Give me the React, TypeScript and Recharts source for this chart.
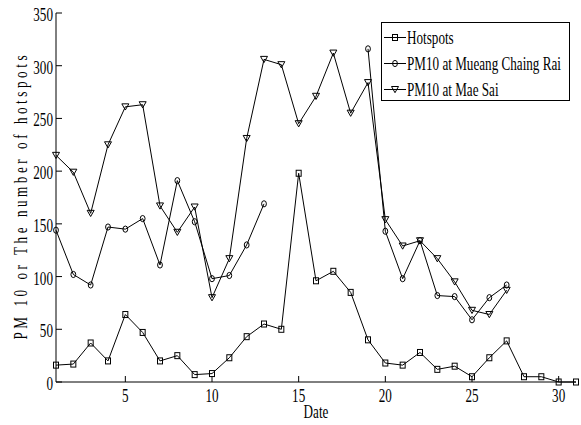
import React from 'react';
import { LineChart, Line, XAxis, YAxis, Legend } from 'recharts';

const dates = [1,2,3,4,5,6,7,8,9,10,11,12,13,14,15,16,17,18,19,20,21,22,23,24,25,26,27,28,29,30,31];
const hotspots = [16,17,37,20,64,47,20,25,7,8,23,43,55,50,198,96,105,85,40,18,16,28,12,15,5,23,39,5,5,0,0];
const pm10Mueang = [144,102,92,147,145,155,111,191,152,98,101,130,169,null,null,null,null,null,316,143,98,134,82,81,59,80,92,null,null,null,null];
const pm10MaeSai = [215,199,160,225,261,263,167,142,166,80,117,231,306,301,245,271,312,255,284,154,129,134,117,95,68,64,87,null,null,null,null];
const xTicks = [5,10,15,20,25,30];
const yTicks = [0,50,100,150,200,250,300,350];
const seriesNames = ['Hotspots', 'PM10 at Mueang Chaing Rai', 'PM10 at Mae Sai'];

const data = dates.map((d, i) => ({
  date: d,
  hotspots: hotspots[i],
  mueang: pm10Mueang[i],
  maeSai: pm10MaeSai[i],
}));

const FONT = '"Liberation Serif", "Times New Roman", serif';
const SX = 0.73;

const Square = ({ cx, cy }: any) => (
  <rect x={cx - 2.5} y={cy - 3} width={5} height={6} fill="none" stroke="#000" strokeWidth={1} />
);
const Circ = ({ cx, cy }: any) => (
  <ellipse cx={cx} cy={cy} rx={2.4} ry={3.1} fill="none" stroke="#000" strokeWidth={1} />
);
const Tri = ({ cx, cy }: any) => (
  <polygon points={`${cx - 3.5},${cy - 3} ${cx + 3.5},${cy - 3} ${cx},${cy + 3.2}`} fill="none" stroke="#000" strokeWidth={1} />
);

const mkDot = (Shape: any) => (props: any) => {
  const { cx, cy, value, index } = props;
  if (value == null || cx == null || cy == null) return <g key={`n${index}`} />;
  return <Shape key={`d${index}`} cx={cx} cy={cy} />;
};

const LeftTick = ({ x, y, payload }: any) => (
  <g>
    <line x1={x} y1={y} x2={x + 6} y2={y} stroke="#000" />
    <text transform={`translate(${x - 3},${y + 8}) scale(${SX},1)`} textAnchor="end" fontFamily={FONT} fontSize={18} fill="#000">
      {payload.value}
    </text>
  </g>
);
const RightTick = ({ x, y }: any) => (
  <line x1={x} y1={y} x2={x - 6} y2={y} stroke="#000" />
);
const BottomTick = ({ x, y, payload }: any) => (
  <g>
    <line x1={x} y1={y} x2={x} y2={y - 6} stroke="#000" />
    <text transform={`translate(${x},${y + 20}) scale(${SX},1)`} textAnchor="middle" fontFamily={FONT} fontSize={18} fill="#000">
      {payload.value}
    </text>
  </g>
);
const TopTick = ({ x, y }: any) => (
  <line x1={x} y1={y} x2={x} y2={y + 6} stroke="#000" />
);

const LegendBox = () => {
  const shapes = [Square, Circ, Tri];
  return (
    <svg width={190} height={80} style={{ display: 'block' }}>
      <rect x={0.5} y={0.5} width={188} height={78} fill="#fff" stroke="#000" strokeWidth={1} />
      {seriesNames.map((n, i) => {
        const ly = 15.5 + i * 26;
        const S = shapes[i];
        return (
          <g key={n}>
            <line x1={3} y1={ly} x2={25} y2={ly} stroke="#000" />
            <S cx={14} cy={ly} />
            <text transform={`translate(26,${ly + 6}) scale(${SX},1)`} fontFamily={FONT} fontSize={18} fill="#000">
              {n}
            </text>
          </g>
        );
      })}
    </svg>
  );
};

export default function App() {
  return (
    <div style={{ position: 'absolute', left: 0, top: 0, width: 581, height: 425, background: '#fff' }}>
      <LineChart width={581} height={425} data={data} margin={{ top: 13, right: 5, bottom: 13, left: 10 }}>
        <XAxis
          dataKey="date"
          type="number"
          domain={[1, 31]}
          ticks={xTicks}
          interval={0}
          height={30}
          tickSize={0}
          tickMargin={0}
          tickLine={false}
          axisLine={{ stroke: '#000' }}
          tick={<BottomTick />}
          label={({ viewBox }: any) => (
            <text
              transform={`translate(${viewBox.x + viewBox.width / 2},418) scale(${SX},1)`}
              textAnchor="middle"
              fontFamily={FONT}
              fontSize={18}
              fill="#000"
            >
              Date
            </text>
          )}
        />
        <XAxis
          xAxisId="top"
          orientation="top"
          dataKey="date"
          type="number"
          domain={[1, 31]}
          ticks={xTicks}
          interval={0}
          height={0}
          tickSize={0}
          tickMargin={0}
          tickLine={false}
          axisLine={{ stroke: '#000' }}
          tick={<TopTick />}
        />
        <YAxis
          type="number"
          domain={[0, 350]}
          ticks={yTicks}
          interval={0}
          width={46}
          tickSize={0}
          tickMargin={0}
          tickLine={false}
          axisLine={{ stroke: '#000' }}
          tick={<LeftTick />}
          label={({ viewBox }: any) => (
            <text
              transform={`translate(27,${viewBox.y + viewBox.height / 2}) rotate(-90) scale(${SX},1)`}
              textAnchor="middle"
              fontFamily={FONT}
              fontSize={18}
              fill="#000"
              textLength={284 / SX}
              lengthAdjust="spacing"
            >
              PM 10 or The number of hotspots
            </text>
          )}
        />
        <YAxis
          yAxisId="right"
          orientation="right"
          type="number"
          domain={[0, 350]}
          ticks={yTicks}
          interval={0}
          width={0}
          tickSize={0}
          tickMargin={0}
          tickLine={false}
          axisLine={{ stroke: '#000' }}
          tick={<RightTick />}
        />
        <Legend
          layout="vertical"
          align="center"
          verticalAlign="middle"
          wrapperStyle={{ position: 'absolute', left: 381, top: 22, width: 190, height: 80 }}
          content={() => <LegendBox />}
        />
        <Line
          dataKey="hotspots"
          name={seriesNames[0]}
          stroke="#000"
          strokeWidth={1}
          dot={mkDot(Square)}
          activeDot={false}
          isAnimationActive={false}
        />
        <Line
          dataKey="mueang"
          name={seriesNames[1]}
          stroke="#000"
          strokeWidth={1}
          dot={mkDot(Circ)}
          activeDot={false}
          isAnimationActive={false}
        />
        <Line
          dataKey="maeSai"
          name={seriesNames[2]}
          stroke="#000"
          strokeWidth={1}
          dot={mkDot(Tri)}
          activeDot={false}
          isAnimationActive={false}
        />
      </LineChart>
    </div>
  );
}
